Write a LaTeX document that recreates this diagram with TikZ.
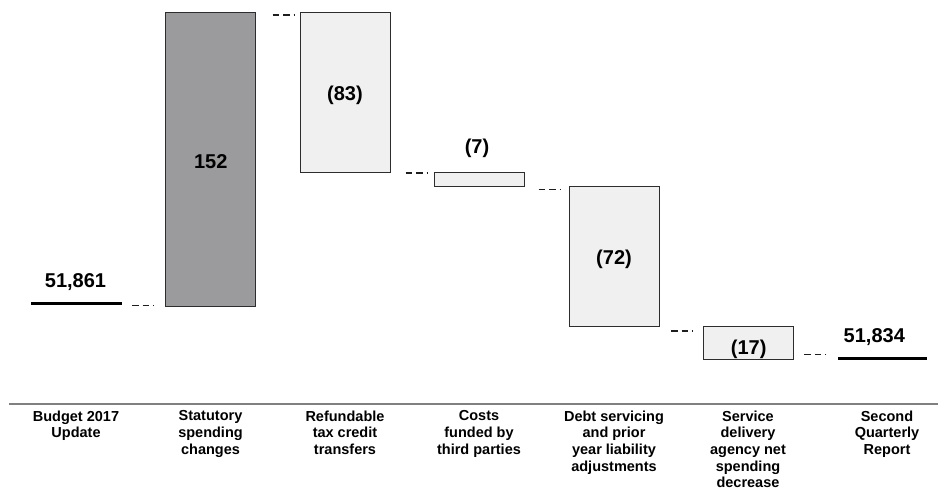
\documentclass[tikz,border=0pt]{standalone}
\usepackage{fontspec}
\setmainfont{Liberation Sans}
\definecolor{darkbar}{RGB}{155,155,158}
\definecolor{lightbar}{RGB}{240,240,240}
\definecolor{edgecol}{RGB}{45,45,45}
\definecolor{conncol}{RGB}{30,30,30}
\definecolor{axiscol}{RGB}{128,128,128}
\begin{document}
\begin{tikzpicture}[x=1pt,y=-1pt,
  bar/.style={draw=edgecol,line width=1pt,anchor=north west,minimum width=90pt,inner sep=0pt,outer sep=0pt},
  upbar/.style={bar,fill=darkbar},
  downbar/.style={bar,fill=lightbar},
  total/.style={line width=3pt,black},
  conn/.style={conncol,line width=1.3pt,dash pattern=on 6.5pt off 4pt},
  val/.style={font=\fontsize{20}{24}\selectfont\bfseries,inner sep=0pt},
  cat/.style={font=\fontsize{14.5}{16.6}\selectfont\bfseries,align=center,anchor=north,inner sep=0pt},
  axis/.style={axiscol,line width=2pt}]
\useasboundingbox (0,0) rectangle (938,489);

% totals
\coordinate (t1a) at (31,303.5);
\coordinate (t1b) at (122,303.5);
\draw[total] (t1a) -- (t1b);
\coordinate (t2a) at (838.3,358.3);
\coordinate (t2b) at (927.3,358.3);
\draw[total] (t2a) -- (t2b);

% bars
\node[upbar,minimum height=294pt] (b1) at (165.7,12.7) {};
\node[downbar,minimum height=160.3pt] (b2) at (300.3,12.7) {};
\node[downbar,minimum height=14pt] (b3) at (434.3,173) {};
\node[downbar,minimum height=139.6pt] (b4) at (569,186.7) {};
\node[downbar,minimum height=33pt] (b5) at (703.3,326.3) {};

% connectors
\coordinate (c1a) at (132,305.7);   \coordinate (c1b) at (153.5,305.7);
\coordinate (c2a) at (272.7,15);    \coordinate (c2b) at (294.2,15);
\coordinate (c3a) at (405.7,173);   \coordinate (c3b) at (427.2,173);
\coordinate (c4a) at (538.5,189.3); \coordinate (c4b) at (560,189.3);
\coordinate (c5a) at (671,331);     \coordinate (c5b) at (692.5,331);
\coordinate (c6a) at (804.3,354.3); \coordinate (c6b) at (825.8,354.3);
\draw[conn] (c1a) -- (c1b);
\draw[conn] (c2a) -- (c2b);
\draw[conn] (c3a) -- (c3b);
\draw[conn] (c4a) -- (c4b);
\draw[conn] (c5a) -- (c5b);
\draw[conn] (c6a) -- (c6b);

% values
\node[val,anchor=base] (v0) at (75.5,287.3) {51,861};
\node[val] (v1) at (210.7,162) {152};
\node[val] (v2) at (345,95) {(83)};
\node[val] (v3) at (477,148.3) {(7)};
\node[val] (v4) at (614,259.3) {(72)};
\node[val] (v5) at (748.7,349) {(17)};
\node[val,anchor=base] (v6) at (874.3,342.7) {51,834};

% axis
\coordinate (ax1) at (9,404);
\coordinate (ax2) at (938,404);
\draw[axis] (ax1) -- (ax2);

% categories
\node[cat] (l0) at (76,410.5) {Budget 2017\\Update};
\node[cat] (l1) at (210.5,410.5) {Statutory\\spending\\changes};
\node[cat] (l2) at (345,410.5) {Refundable\\tax credit\\transfers};
\node[cat] (l3) at (479,410.5) {Costs\\funded by\\third parties};
\node[cat] (l4) at (614,410.5) {Debt servicing\\and prior\\year liability\\adjustments};
\node[cat] (l5) at (748,410.5) {Service\\delivery\\agency net\\spending\\decrease};
\node[cat] (l6) at (887,410.5) {Second\\Quarterly\\Report};
\end{tikzpicture}
\end{document}
